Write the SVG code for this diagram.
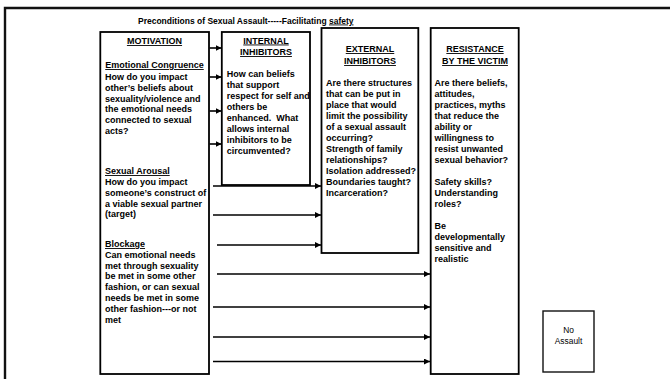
<svg xmlns="http://www.w3.org/2000/svg" width="670" height="379" viewBox="0 0 670 379">
<defs>
<marker id="ah" markerUnits="userSpaceOnUse" markerWidth="7" markerHeight="6" refX="6" refY="3" orient="auto">
<path d="M0,0 L6,3 L0,6 z" fill="#000"/>
</marker>
<style>
.box{fill:#fff;stroke:#000;stroke-width:1.8}
.t{font-family:"Liberation Sans",Arial,sans-serif;font-weight:bold;font-size:9px;fill:#000}
.h{text-decoration:underline;text-anchor:middle}
.u{text-decoration:underline}
.a{stroke:#000;stroke-width:1.6;fill:none;marker-end:url(#ah)}
.r{font-family:"Liberation Sans",Arial,sans-serif;font-size:8.4px;fill:#000;text-anchor:middle}
</style>
</defs>
<rect x="0" y="0" width="670" height="379" fill="#fff"/>
<path d="M5,380 V8 H672" fill="none" stroke="#111" stroke-width="2.4"/>
<text class="t" x="138" y="23.5" style="font-size:8.5px">Preconditions of Sexual Assault-----Facilitating <tspan class="u">safety</tspan></text>

<g id="motivation">
<rect class="box" x="100.3" y="32" width="108.7" height="342"/>
<text class="t h" x="154.5" y="44">MOTIVATION</text>
<text class="t h" x="154.5" y="68">Emotional Congruence</text>
<text class="t" x="105" y="80">How do you impact<tspan x="105" dy="10.8">other’s beliefs about</tspan><tspan x="105" dy="10.8">sexuality/violence and</tspan><tspan x="105" dy="10.8">the emotional needs</tspan><tspan x="105" dy="10.8">connected to sexual</tspan><tspan x="105" dy="10.8">acts?</tspan></text>
<text class="t u" x="105" y="174">Sexual Arousal</text>
<text class="t" x="105" y="185">How do you impact<tspan x="105" dy="10.8">someone’s construct of</tspan><tspan x="105" dy="10.8">a viable sexual partner</tspan><tspan x="105" dy="10.8">(target)</tspan></text>
<text class="t u" x="105" y="247">Blockage</text>
<text class="t" x="105" y="257.8">Can emotional needs<tspan x="105" dy="10.8">met through sexuality</tspan><tspan x="105" dy="10.8">be met in some other</tspan><tspan x="105" dy="10.8">fashion, or can sexual</tspan><tspan x="105" dy="10.8">needs be met in some</tspan><tspan x="105" dy="10.8">other fashion---or not</tspan><tspan x="105" dy="10.8">met</tspan></text>
</g>

<g id="internal">
<rect class="box" x="221.8" y="32" width="88.2" height="153"/>
<text class="t h" x="266" y="43.5">INTERNAL</text>
<text class="t h" x="266" y="55">INHIBITORS</text>
<text class="t" x="226.7" y="77" style="white-space:pre">How can beliefs<tspan x="226.7" dy="11">that support</tspan><tspan x="226.7" dy="11">respect for self and</tspan><tspan x="226.7" dy="11">others be</tspan><tspan x="226.7" dy="11">enhanced.  What</tspan><tspan x="226.7" dy="11">allows internal</tspan><tspan x="226.7" dy="11">inhibitors to be</tspan><tspan x="226.7" dy="11">circumvented?</tspan></text>
</g>

<g id="external">
<rect class="box" x="321.5" y="28" width="96.8" height="225"/>
<text class="t h" x="370" y="52">EXTERNAL</text>
<text class="t h" x="370" y="64">INHIBITORS</text>
<text class="t" x="326" y="86">Are there structures<tspan x="326" dy="11">that can be put in</tspan><tspan x="326" dy="11">place that would</tspan><tspan x="326" dy="11">limit the possibility</tspan><tspan x="326" dy="11">of a sexual assault</tspan><tspan x="326" dy="11">occurring?</tspan><tspan x="326" dy="11">Strength of family</tspan><tspan x="326" dy="11">relationships?</tspan><tspan x="326" dy="11">Isolation addressed?</tspan><tspan x="326" dy="11">Boundaries taught?</tspan><tspan x="326" dy="11">Incarceration?</tspan></text>
</g>

<g id="resistance">
<rect class="box" x="430.7" y="28" width="88" height="346"/>
<text class="t h" x="475" y="52">RESISTANCE</text>
<text class="t h" x="475" y="64">BY THE VICTIM</text>
<text class="t" x="434.5" y="86">Are there beliefs,<tspan x="434.5" dy="11">attitudes,</tspan><tspan x="434.5" dy="11">practices, myths</tspan><tspan x="434.5" dy="11">that reduce the</tspan><tspan x="434.5" dy="11">ability or</tspan><tspan x="434.5" dy="11">willingness to</tspan><tspan x="434.5" dy="11">resist unwanted</tspan><tspan x="434.5" dy="11">sexual behavior?</tspan><tspan x="434.5" dy="22">Safety skills?</tspan><tspan x="434.5" dy="11">Understanding</tspan><tspan x="434.5" dy="11">roles?</tspan><tspan x="434.5" dy="22">Be</tspan><tspan x="434.5" dy="11">developmentally</tspan><tspan x="434.5" dy="11">sensitive and</tspan><tspan x="434.5" dy="11">realistic</tspan></text>
</g>

<g id="no-assault">
<rect x="543" y="311" width="51" height="61" fill="#fff" stroke="#111" stroke-width="1.4"/>
<text class="r" x="568.5" y="333">No<tspan x="568.5" dy="10.7">Assault</tspan></text>
</g>

<g id="connectors">
<line class="a" x1="209.5" y1="48" x2="221.5" y2="48"/>
<line class="a" x1="209.5" y1="77" x2="221.5" y2="77"/>
<line class="a" x1="209.5" y1="111" x2="221.5" y2="111"/>
<line class="a" x1="209.5" y1="144" x2="221.5" y2="144"/>
<line class="a" x1="213" y1="186" x2="321" y2="186"/>
<line class="a" x1="213" y1="215" x2="321" y2="215"/>
<line class="a" x1="217" y1="245" x2="321" y2="245"/>
<line class="a" x1="217" y1="274" x2="430" y2="274"/>
<line class="a" x1="213" y1="307" x2="430" y2="307"/>
<line class="a" x1="213" y1="337" x2="430" y2="337"/>
<line class="a" x1="213" y1="361.5" x2="430" y2="361.5"/>
</g>
</svg>
